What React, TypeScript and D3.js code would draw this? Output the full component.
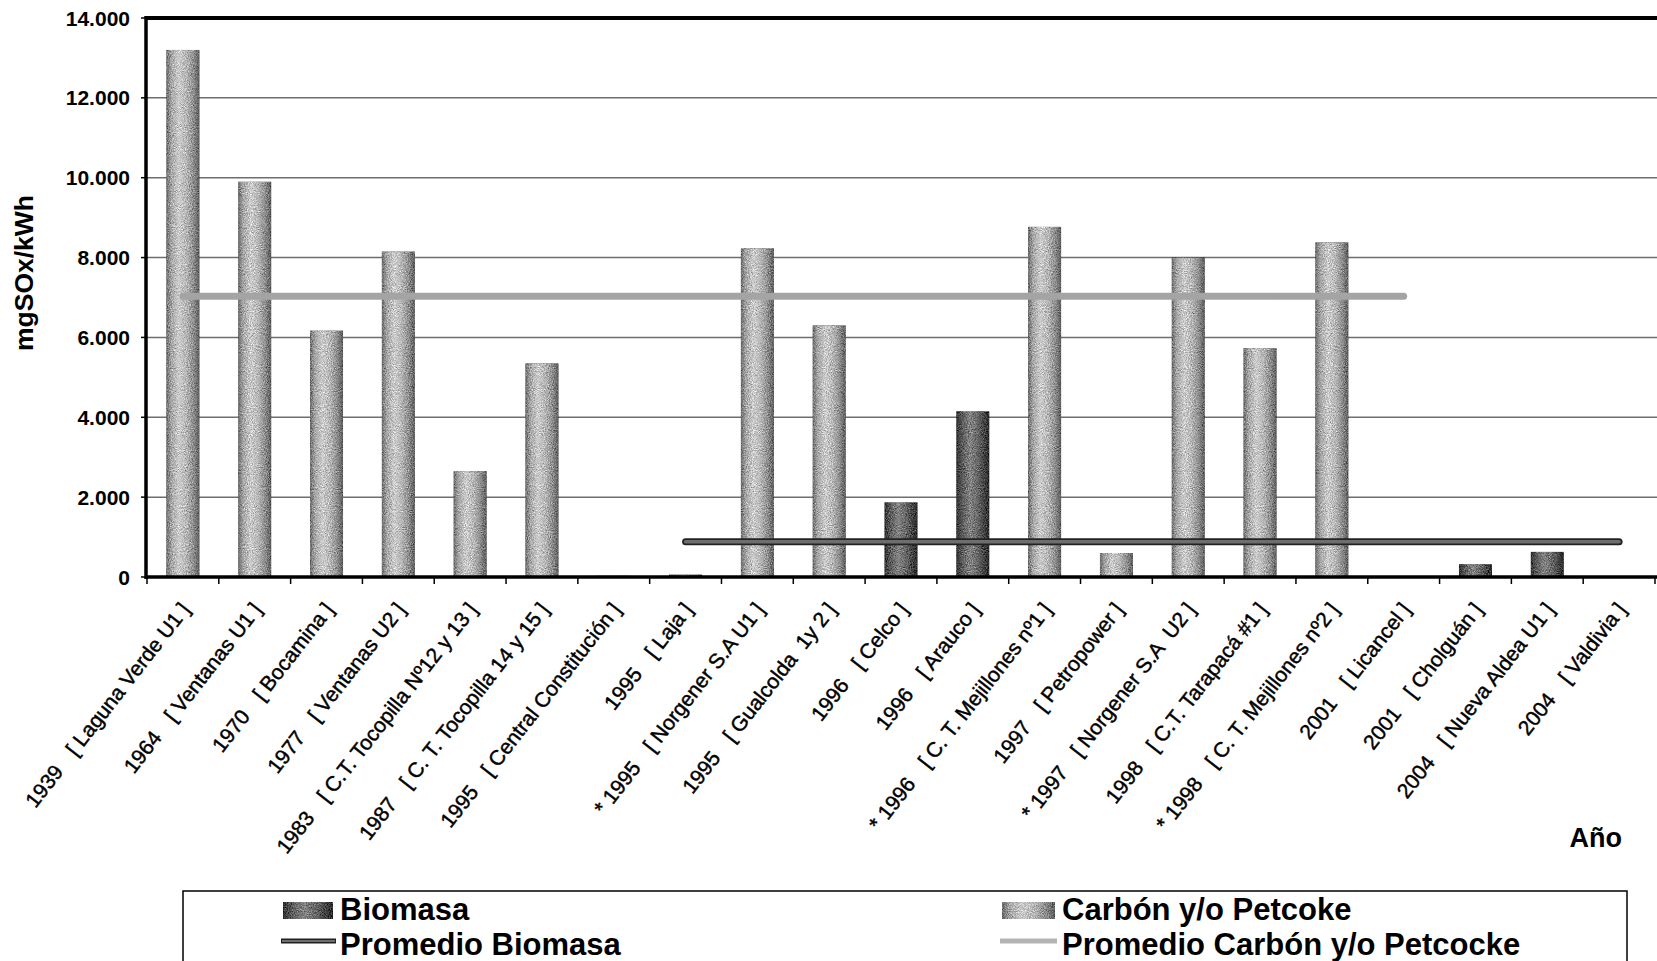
import * as React from 'react';
import * as d3 from 'd3';

// plant commissioning year, name and fuel, with SOx emission per kWh
const years = ['1939', '1964', '1970', '1977', '1983', '1987', '1995', '1995', '* 1995', '1995', '1996',
  '1996', '* 1996', '1997', '* 1997', '1998', '* 1998', '2001', '2001', '2004', '2004'];
const plants = ['[ Laguna Verde U1 ]', '[ Ventanas U1 ]', '[ Bocamina ]', '[ Ventanas U2 ]',
  '[ C.T. Tocopilla Nº12 y 13 ]', '[ C. T. Tocopilla 14 y 15 ]', '[ Central Constitución ]', '[ Laja ]',
  '[ Norgener S.A U1 ]', '[ Gualcolda  1y 2 ]', '[ Celco ]', '[ Arauco ]', '[ C. T. Mejillones nº1 ]',
  '[ Petropower ]', '[ Norgener S.A  U2 ]', '[ C.T. Tarapacá #1 ]', '[ C. T. Mejillones nº2 ]',
  '[ Licancel ]', '[ Cholguán ]', '[ Nueva Aldea U1 ]', '[ Valdivia ]'];
const fuel = ['C', 'C', 'C', 'C', 'C', 'C', 'B', 'B', 'C', 'C', 'B', 'B', 'C', 'C', 'C', 'C', 'C', 'B', 'B', 'B', 'B'];
const sox = [13200, 9900, 6170, 8150, 2650, 5350, 30, 60, 8230, 6300, 1870, 4150, 8770, 600, 8000, 5730, 8380,
  0, 320, 630, 20];

// category span (first, last) over which each average line is drawn
const carbonAvgSpan = [0, 17];
const biomasaAvgSpan = [7, 20];

const yTicks = [0, 2000, 4000, 6000, 8000, 10000, 12000, 14000];

const W = 1657;
const H = 961;
const left = 147;
const right = 1655;
const top = 18;
const bottom = 577;
const FONT = '"Liberation Sans", Arial, sans-serif';

const fmt = d3.formatLocale({ decimal: ',', thousands: '.', grouping: [3], currency: ['', ''] }).format(',');

export default function App() {
  const idx = d3.range(sox.length);
  const x = d3.scaleBand<number>().domain(idx).range([left, right]).paddingInner(0.54).paddingOuter(0.27);
  const y = d3.scaleLinear().domain([0, 14000]).range([bottom, top]);
  const step = x.step();
  const cx = (i: number) => (x(i) || 0) + x.bandwidth() / 2;

  const carbonAvg = d3.mean(idx.filter((i) => fuel[i] === 'C'), (i) => sox[i]) || 0;
  const biomasaAvg = d3.mean(idx.filter((i) => fuel[i] === 'B'), (i) => sox[i]) || 0;

  const carbonPath = d3.line<number>().x((i) => cx(i)).y(() => y(carbonAvg))(carbonAvgSpan) || '';
  const biomasaPath = d3.line<number>().x((i) => cx(i)).y(() => y(biomasaAvg))(biomasaAvgSpan) || '';

  return (
    <svg width={W} height={H} style={{ position: 'absolute', left: 0, top: 0, background: '#fff' }}
      fontFamily={FONT}>
      <defs>
        <linearGradient id="gC" x1="0" x2="1" y1="0" y2="0">
          <stop offset="0%" stopColor="#6a6a6a" />
          <stop offset="15%" stopColor="#a6a6a6" />
          <stop offset="38%" stopColor="#cdcdcd" />
          <stop offset="60%" stopColor="#b8b8b8" />
          <stop offset="82%" stopColor="#8e8e8e" />
          <stop offset="100%" stopColor="#5c5c5c" />
        </linearGradient>
        <linearGradient id="gB" x1="0" x2="1" y1="0" y2="0">
          <stop offset="0%" stopColor="#303030" />
          <stop offset="18%" stopColor="#5c5c5c" />
          <stop offset="42%" stopColor="#858585" />
          <stop offset="68%" stopColor="#636363" />
          <stop offset="100%" stopColor="#282828" />
        </linearGradient>
        <filter id="grain" x="0" y="0" width="100%" height="100%" colorInterpolationFilters="sRGB">
          <feTurbulence type="fractalNoise" baseFrequency="0.95" numOctaves="2" seed="4" result="n" />
          <feColorMatrix in="n" type="matrix"
            values="0.33 0.33 0.33 0 0  0.33 0.33 0.33 0 0  0.33 0.33 0.33 0 0  0 0 0 0 1" result="g" />
          <feComposite in="SourceGraphic" in2="g" operator="arithmetic" k1="0" k2="1" k3="1.1" k4="-0.55" result="m" />
          <feComposite in="m" in2="SourceGraphic" operator="in" />
        </filter>
      </defs>

      {/* gridlines */}
      <g stroke="#6e6e6e" strokeWidth={1.5}>
        {yTicks.filter((t) => t > 0 && t < 14000).map((t) => (
          <line key={t} x1={left} x2={W} y1={y(t)} y2={y(t)} />
        ))}
      </g>

      {/* bars */}
      <g filter="url(#grain)">
        {idx.map((i) => (
          <rect key={i} x={x(i)} y={y(sox[i])} width={x.bandwidth()} height={bottom - y(sox[i])}
            fill={fuel[i] === 'B' ? 'url(#gB)' : 'url(#gC)'} />
        ))}
      </g>

      {/* average lines */}
      <g fill="none" strokeLinecap="round">
        <path d={carbonPath} stroke="#a4a4a4" strokeWidth={7} />
        <path d={carbonPath} stroke="#cfcfcf" strokeWidth={4} filter="url(#grain)" />
        <path d={biomasaPath} stroke="#222" strokeWidth={7} />
        <path d={biomasaPath} stroke="#6e6e6e" strokeWidth={3.5} />
      </g>

      {/* axes frame */}
      <line x1={left - 2} x2={W} y1={top} y2={top} stroke="#000" strokeWidth={4} />
      <line x1={left - 1} x2={left - 1} y1={top - 2} y2={bottom + 2} stroke="#000" strokeWidth={3.5} />
      <line x1={left - 2} x2={W} y1={bottom} y2={bottom} stroke="#000" strokeWidth={3.5} />
      <g stroke="#000" strokeWidth={1.5}>
        {yTicks.map((t) => (
          <line key={t} x1={left - 6} x2={left} y1={y(t)} y2={y(t)} />
        ))}
        {d3.range(sox.length + 1).map((k) => (
          <line key={k} x1={left + k * step} x2={left + k * step} y1={bottom} y2={bottom + 7} />
        ))}
      </g>

      {/* y tick labels */}
      <g fontSize={21} fontWeight="bold" textAnchor="end">
        {yTicks.map((t) => (
          <text key={t} x={130} y={y(t)} dy="0.36em">{fmt(t)}</text>
        ))}
      </g>
      <text transform="translate(33,273) rotate(-90)" textAnchor="middle" fontSize={25} fontWeight="bold"
        textLength={156} lengthAdjust="spacingAndGlyphs">mgSOx/kWh</text>

      {/* x tick labels */}
      <g fontSize={21} textAnchor="end" stroke="#000" strokeWidth={0.45}>
        {idx.map((i) => (
          <text key={i} transform={`translate(${cx(i) + 8},610) rotate(-52)`} xmlSpace="preserve">
            <tspan>{years[i]}</tspan>
            <tspan dx="0.9em">{plants[i]}</tspan>
          </text>
        ))}
      </g>
      <text x={1622} y={847} textAnchor="end" fontSize={27} fontWeight="bold">Año</text>

      {/* legend */}
      <rect x={183} y={891} width={1444} height={100} fill="none" stroke="#000" strokeWidth={1.5} />
      <g filter="url(#grain)">
        <rect x={283} y={902} width={50} height={17} fill="url(#gB)" />
        <rect x={1002} y={902} width={53} height={17} fill="url(#gC)" />
      </g>
      <line x1={281} x2={336} y1={941} y2={941} stroke="#222" strokeWidth={5} />
      <line x1={282} x2={335} y1={941} y2={941} stroke="#6e6e6e" strokeWidth={2} />
      <line x1={1000} x2={1057} y1={941} y2={941} stroke="#b4b4b4" strokeWidth={5} />
      <g fontSize={31} fontWeight="bold">
        <text x={340} y={920}>Biomasa</text>
        <text x={340} y={955}>Promedio Biomasa</text>
        <text x={1062} y={920}>Carbón y/o Petcoke</text>
        <text x={1062} y={955}>Promedio Carbón y/o Petcocke</text>
      </g>
    </svg>
  );
}
